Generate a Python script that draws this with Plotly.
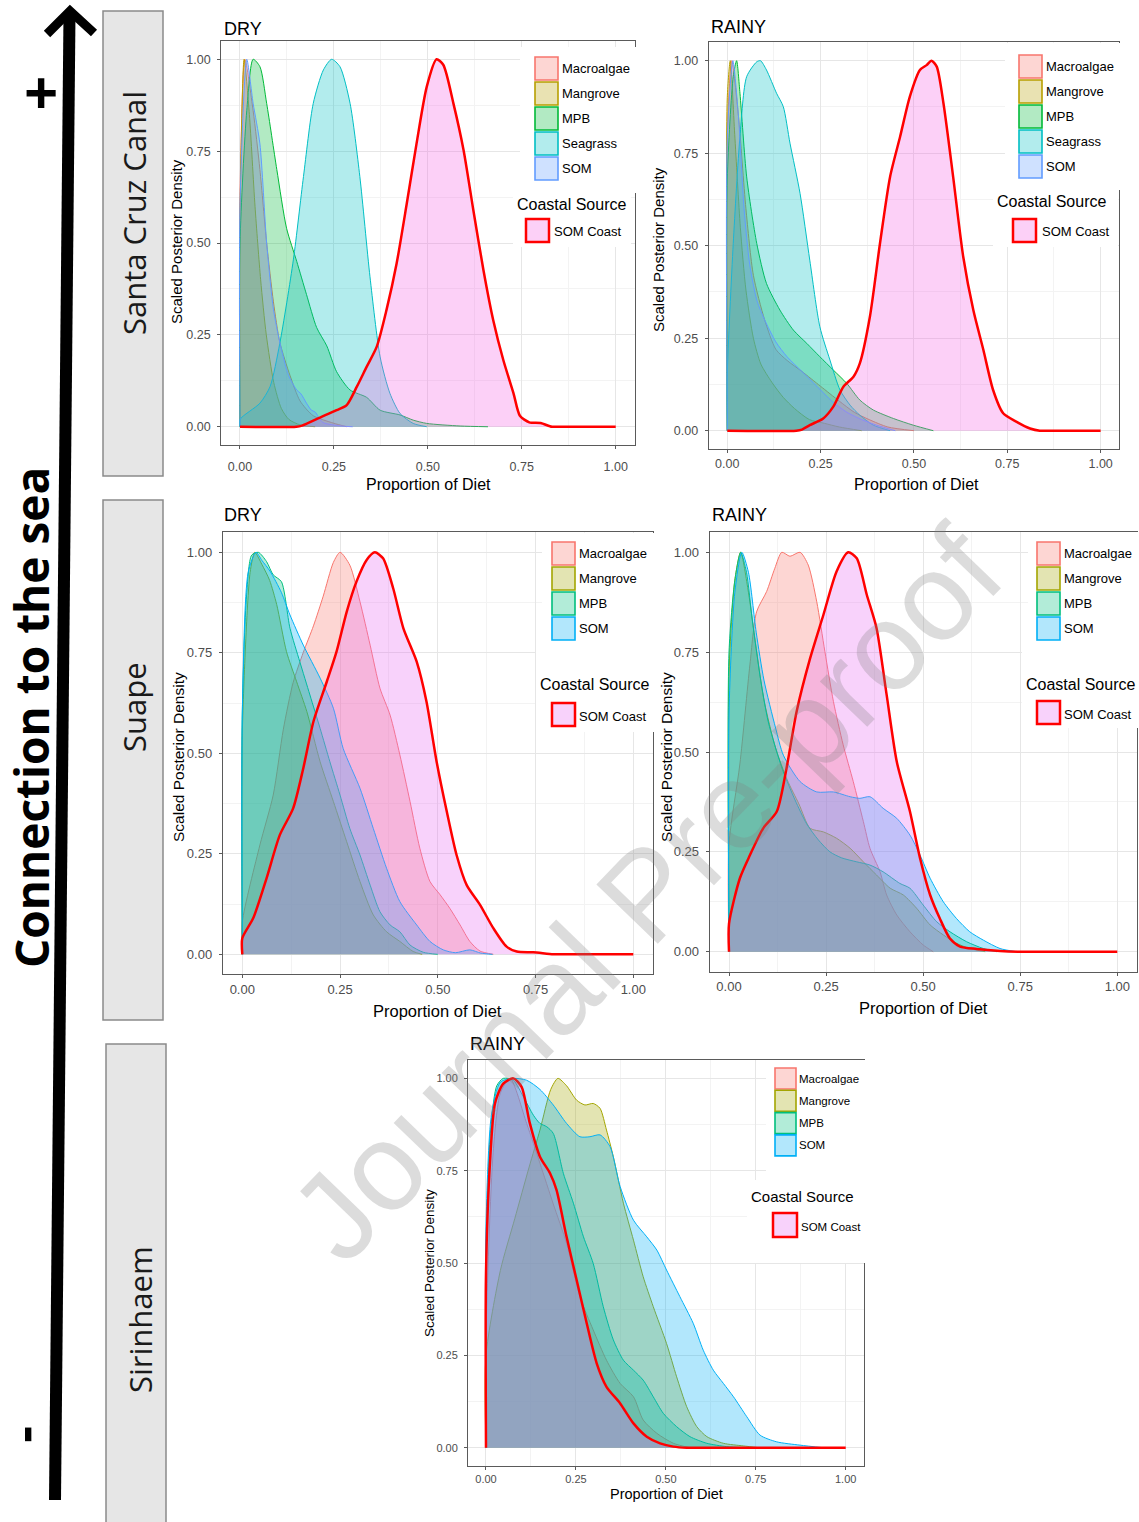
import plotly.graph_objects as go

W, H = 1139, 1522

# ------------------------------------------------------------------ data
SOURCES_SCC = ["Macroalgae", "Mangrove", "MPB", "Seagrass", "SOM"]
SOURCES_EST = ["Macroalgae", "Mangrove", "MPB", "SOM"]
COAST = "SOM Coast"
TICK_VALS = [0, 0.25, 0.5, 0.75, 1.0]
TICK_TEXT = ["0.00", "0.25", "0.50", "0.75", "1.00"]
MINOR_VALS = [0.125, 0.375, 0.625, 0.875]
PANEL_TITLES = ["DRY", "RAINY", "DRY", "RAINY", "RAINY"]
SITES = ["Santa Cruz Canal", "Suape", "Sirinhaem"]

# --- Santa Cruz Canal, DRY
scc_dry_macroalgae_x = [0, 0.013, 0.035, 0.053, 0.071, 0.089, 0.106, 0.133, 0.16, 0.195, 0.248, 0.284]
scc_dry_macroalgae_y = [0.63, 1.0, 0.86, 0.70, 0.50, 0.34, 0.23, 0.14, 0.07, 0.03, 0.01, 0.0]
scc_dry_mangrove_x = [0, 0.011, 0.025, 0.04, 0.055, 0.07, 0.09, 0.11, 0.13, 0.16, 0.2]
scc_dry_mangrove_y = [0.56, 1.0, 0.85, 0.6, 0.4, 0.25, 0.12, 0.05, 0.02, 0.005, 0.0]
scc_dry_mpb_x = [0, 0.018, 0.035, 0.053, 0.071, 0.098, 0.124, 0.151, 0.177, 0.204, 0.231, 0.257,
                 0.293, 0.337, 0.373, 0.426, 0.461, 0.497, 0.586, 0.66]
scc_dry_mpb_y = [0.50, 0.86, 1.0, 0.98, 0.88, 0.70, 0.54, 0.45, 0.36, 0.27, 0.22, 0.15,
                 0.10, 0.08, 0.045, 0.032, 0.018, 0.009, 0.002, 0.0]
scc_dry_seagrass_x = [0, 0.053, 0.08, 0.106, 0.142, 0.169, 0.195, 0.222, 0.244, 0.266, 0.293, 0.319,
                      0.346, 0.373, 0.399, 0.426, 0.461, 0.497]
scc_dry_seagrass_y = [0.02, 0.064, 0.109, 0.227, 0.454, 0.681, 0.88, 0.971, 1.0, 0.98, 0.88, 0.681,
                      0.408, 0.19, 0.091, 0.036, 0.009, 0.0]
scc_dry_som_x = [0, 0.018, 0.035, 0.053, 0.071, 0.089, 0.106, 0.129, 0.151, 0.162, 0.177, 0.19,
                 0.2, 0.22, 0.27, 0.3]
scc_dry_som_y = [0.6, 1.0, 0.88, 0.77, 0.50, 0.32, 0.23, 0.14, 0.10, 0.09, 0.064, 0.045,
                 0.04, 0.012, 0.002, 0.0]
scc_dry_coast_x = [0, 0.15, 0.165, 0.213, 0.257, 0.284, 0.311, 0.337, 0.364, 0.39, 0.417, 0.444,
                   0.47, 0.497, 0.523, 0.541, 0.568, 0.595, 0.621, 0.648, 0.674, 0.701, 0.728,
                   0.745, 0.77, 0.8, 0.83, 0.845, 1.0]
scc_dry_coast_y = [0, 0, 0.003, 0.025, 0.045, 0.059, 0.109, 0.163, 0.218, 0.318, 0.445, 0.608,
                   0.771, 0.925, 1.0, 0.985, 0.88, 0.753, 0.59, 0.426, 0.29, 0.181, 0.091,
                   0.03, 0.012, 0.01, 0.0, 0.0, 0.0]

# --- Santa Cruz Canal, RAINY
scc_rainy_macroalgae_x = [0, 0.012, 0.03, 0.05, 0.07, 0.1, 0.13, 0.16, 0.2, 0.25, 0.3, 0.34, 0.38, 0.43, 0.5]
scc_rainy_macroalgae_y = [0.8, 1.0, 0.85, 0.6, 0.42, 0.3, 0.22, 0.19, 0.16, 0.12, 0.08, 0.05, 0.03, 0.01, 0.0]
scc_rainy_mangrove_x = [0, 0.008, 0.02, 0.035, 0.05, 0.07, 0.09, 0.12, 0.15, 0.18, 0.22, 0.26, 0.3, 0.36]
scc_rainy_mangrove_y = [0.9, 1.0, 0.8, 0.55, 0.38, 0.25, 0.18, 0.13, 0.09, 0.06, 0.03, 0.02, 0.01, 0.0]
scc_rainy_mpb_x = [0, 0.016, 0.025, 0.034, 0.052, 0.079, 0.105, 0.141, 0.177, 0.213, 0.248, 0.284,
                   0.32, 0.355, 0.391, 0.445, 0.498, 0.552]
scc_rainy_mpb_y = [0.68, 0.957, 1.0, 0.912, 0.686, 0.506, 0.398, 0.326, 0.272, 0.236, 0.2, 0.164,
                   0.128, 0.083, 0.056, 0.033, 0.015, 0.0]
scc_rainy_seagrass_x = [0, 0.016, 0.034, 0.052, 0.079, 0.089, 0.105, 0.132, 0.15, 0.168, 0.195, 0.221,
                        0.248, 0.275, 0.302, 0.329, 0.355, 0.391, 0.436]
scc_rainy_seagrass_y = [0.15, 0.506, 0.795, 0.957, 0.997, 1.0, 0.975, 0.912, 0.876, 0.777, 0.641, 0.461,
                        0.281, 0.191, 0.11, 0.069, 0.042, 0.015, 0.0]
scc_rainy_som_x = [0, 0.015, 0.03, 0.045, 0.06, 0.08, 0.1, 0.13, 0.16, 0.2, 0.24, 0.28, 0.32, 0.36, 0.4, 0.45]
scc_rainy_som_y = [0.79, 1.0, 0.85, 0.6, 0.45, 0.35, 0.3, 0.24, 0.2, 0.16, 0.12, 0.08, 0.05, 0.03, 0.015, 0.0]
scc_rainy_coast_x = [0, 0.185, 0.2, 0.221, 0.257, 0.284, 0.311, 0.338, 0.355, 0.382, 0.409, 0.436,
                     0.463, 0.489, 0.516, 0.534, 0.547, 0.561, 0.579, 0.605, 0.632, 0.659, 0.686,
                     0.712, 0.739, 0.775, 0.811, 0.837, 0.852, 1.0]
scc_rainy_coast_y = [0, 0, 0.003, 0.015, 0.033, 0.065, 0.119, 0.146, 0.182, 0.308, 0.506, 0.686,
                     0.795, 0.903, 0.975, 0.988, 1.0, 0.984, 0.885, 0.686, 0.47, 0.326, 0.218,
                     0.11, 0.047, 0.024, 0.006, 0.0, 0.0, 0.0]

# --- Suape, DRY
suape_dry_macroalgae_x = [0, 0.045, 0.079, 0.105, 0.13, 0.156, 0.182, 0.207, 0.233, 0.25, 0.275, 0.301,
                          0.327, 0.352, 0.378, 0.403, 0.429, 0.454, 0.48, 0.506, 0.531, 0.557, 0.582,
                          0.608, 0.642]
suape_dry_macroalgae_y = [0.08, 0.272, 0.396, 0.56, 0.676, 0.751, 0.817, 0.891, 0.975, 1.0, 0.968, 0.877,
                          0.769, 0.662, 0.595, 0.496, 0.38, 0.264, 0.181, 0.148, 0.114, 0.073, 0.032,
                          0.008, 0.0]
suape_dry_mangrove_x = [0, 0.02, 0.032, 0.05, 0.07, 0.088, 0.113, 0.139, 0.165, 0.199, 0.233, 0.267,
                        0.301, 0.335, 0.369, 0.403, 0.437, 0.46]
suape_dry_mangrove_y = [0.55, 0.95, 1.0, 0.97, 0.93, 0.87, 0.753, 0.678, 0.604, 0.479, 0.38, 0.28,
                        0.181, 0.098, 0.056, 0.032, 0.007, 0.0]
suape_dry_mpb_x = [0, 0.011, 0.024, 0.041, 0.062, 0.079, 0.1, 0.122, 0.147, 0.173, 0.199, 0.224,
                   0.25, 0.275, 0.301, 0.327, 0.352, 0.378, 0.403, 0.429, 0.463, 0.5]
suape_dry_mpb_y = [0.6, 0.894, 0.993, 1.0, 0.977, 0.944, 0.927, 0.811, 0.728, 0.645, 0.562, 0.479,
                   0.396, 0.313, 0.247, 0.172, 0.106, 0.073, 0.056, 0.023, 0.005, 0.0]
suape_dry_som_x = [0, 0.015, 0.035, 0.05, 0.071, 0.1, 0.122, 0.156, 0.199, 0.233, 0.258, 0.301,
                   0.335, 0.369, 0.403, 0.446, 0.48, 0.514, 0.545, 0.582, 0.61, 0.64]
suape_dry_som_y = [0.6, 0.95, 1.0, 0.98, 0.953, 0.9, 0.844, 0.769, 0.687, 0.612, 0.512, 0.413,
                   0.313, 0.214, 0.131, 0.073, 0.032, 0.011, 0.004, 0.011, 0.003, 0.0]
suape_dry_coast_x = [0, 0.028, 0.062, 0.096, 0.13, 0.156, 0.182, 0.216, 0.241, 0.267, 0.292, 0.318,
                     0.339, 0.36, 0.386, 0.412, 0.446, 0.471, 0.497, 0.523, 0.548, 0.574, 0.608,
                     0.642, 0.676, 0.702, 0.744, 0.795, 0.81, 1.0]
suape_dry_coast_y = [0.04, 0.09, 0.189, 0.297, 0.363, 0.463, 0.579, 0.678, 0.753, 0.852, 0.927, 0.981,
                     1.0, 0.985, 0.91, 0.811, 0.728, 0.629, 0.479, 0.355, 0.247, 0.172, 0.123,
                     0.065, 0.019, 0.007, 0.005, 0.0, 0.0, 0.0]

# --- Suape, RAINY
suape_rainy_macroalgae_x = [0, 0.028, 0.054, 0.071, 0.097, 0.118, 0.136, 0.157, 0.183, 0.204, 0.226,
                            0.247, 0.269, 0.294, 0.32, 0.346, 0.363, 0.389, 0.406, 0.432, 0.466, 0.5, 0.526]
suape_rainy_macroalgae_y = [0.27, 0.47, 0.72, 0.851, 0.902, 0.96, 1.0, 0.99, 1.0, 0.968, 0.876,
                            0.751, 0.626, 0.518, 0.426, 0.326, 0.259, 0.2, 0.142, 0.092, 0.05, 0.017, 0.0]
suape_rainy_mangrove_x = [0, 0.015, 0.03, 0.05, 0.07, 0.09, 0.12, 0.15, 0.18, 0.209, 0.243, 0.277,
                          0.312, 0.346, 0.38, 0.415, 0.449, 0.483, 0.518, 0.552, 0.586, 0.62, 0.66]
suape_rainy_mangrove_y = [0.7, 0.93, 1.0, 0.9, 0.76, 0.63, 0.51, 0.43, 0.37, 0.309, 0.3, 0.284,
                          0.259, 0.225, 0.192, 0.159, 0.142, 0.109, 0.067, 0.042, 0.021, 0.008, 0.0]
suape_rainy_mpb_x = [0, 0.015, 0.03, 0.045, 0.06, 0.08, 0.1, 0.12, 0.14, 0.17, 0.2, 0.23, 0.26,
                     0.29, 0.329, 0.363, 0.397, 0.44, 0.466, 0.5, 0.535, 0.569, 0.612, 0.655, 0.69]
suape_rainy_mpb_y = [0.75, 0.93, 1.0, 0.95, 0.83, 0.69, 0.58, 0.51, 0.45, 0.38, 0.32, 0.28, 0.25,
                     0.235, 0.225, 0.217, 0.2, 0.171, 0.159, 0.117, 0.075, 0.05, 0.025, 0.008, 0.0]
suape_rainy_som_x = [0, 0.015, 0.033, 0.05, 0.07, 0.09, 0.12, 0.14, 0.183, 0.226, 0.269, 0.312,
                     0.337, 0.363, 0.397, 0.432, 0.466, 0.492, 0.518, 0.552, 0.586, 0.62, 0.655,
                     0.698, 0.741]
suape_rainy_som_y = [0.6, 0.9, 1.0, 0.95, 0.8, 0.68, 0.56, 0.492, 0.426, 0.4, 0.4, 0.388,
                     0.384, 0.388, 0.359, 0.334, 0.292, 0.242, 0.184, 0.125, 0.083, 0.05, 0.029,
                     0.008, 0.0]
suape_rainy_coast_x = [0, 0.028, 0.054, 0.088, 0.123, 0.148, 0.174, 0.209, 0.243, 0.277, 0.307,
                       0.329, 0.355, 0.38, 0.406, 0.432, 0.466, 0.492, 0.518, 0.543, 0.569, 0.595,
                       0.638, 0.698, 0.75, 0.765, 1.0]
suape_rainy_coast_y = [0.07, 0.184, 0.242, 0.309, 0.351, 0.459, 0.601, 0.735, 0.843, 0.952, 1.0,
                       0.985, 0.893, 0.81, 0.643, 0.476, 0.351, 0.234, 0.142, 0.083, 0.033, 0.013,
                       0.007, 0.002, 0.0, 0.0, 0.0]

# --- Sirinhaem, RAINY
sir_rainy_macroalgae_x = [0, 0.02, 0.04, 0.067, 0.113, 0.15, 0.187, 0.224, 0.261, 0.298, 0.335, 0.373,
                          0.41, 0.437, 0.475, 0.521, 0.567]
sir_rainy_macroalgae_y = [0.3, 0.8, 0.96, 1.0, 0.878, 0.77, 0.66, 0.553, 0.409, 0.319, 0.237, 0.174,
                          0.138, 0.075, 0.039, 0.012, 0.0]
sir_rainy_mangrove_x = [0, 0.04, 0.08, 0.12, 0.15, 0.18, 0.2, 0.224, 0.252, 0.275, 0.298, 0.317,
                        0.335, 0.354, 0.382, 0.41, 0.437, 0.465, 0.502, 0.53, 0.558, 0.586, 0.614,
                        0.66, 0.715, 0.76]
sir_rainy_mangrove_y = [0.25, 0.48, 0.62, 0.76, 0.86, 0.97, 1.0, 0.98, 0.941, 0.928, 0.932, 0.919,
                        0.86, 0.788, 0.662, 0.562, 0.463, 0.382, 0.282, 0.192, 0.111, 0.057, 0.03,
                        0.012, 0.005, 0.0]
sir_rainy_mpb_x = [0, 0.012, 0.03, 0.048, 0.076, 0.104, 0.132, 0.15, 0.169, 0.187, 0.215, 0.243,
                   0.271, 0.298, 0.326, 0.354, 0.382, 0.41, 0.437, 0.465, 0.493, 0.53, 0.567,
                   0.614, 0.669, 0.72]
sir_rainy_mpb_y = [0.5, 0.85, 0.98, 1.0, 0.995, 0.95, 0.9, 0.878, 0.869, 0.851, 0.743, 0.662,
                   0.571, 0.499, 0.382, 0.292, 0.237, 0.21, 0.183, 0.138, 0.093, 0.057, 0.03,
                   0.012, 0.003, 0.0]
sir_rainy_som_x = [0, 0.015, 0.04, 0.075, 0.113, 0.15, 0.187, 0.224, 0.261, 0.289, 0.317, 0.345,
                   0.373, 0.41, 0.447, 0.475, 0.502, 0.539, 0.576, 0.604, 0.632, 0.66, 0.688,
                   0.725, 0.762, 0.808, 0.873, 0.938]
sir_rainy_som_y = [0.6, 0.9, 0.99, 1.0, 0.995, 0.97, 0.928, 0.878, 0.842, 0.842, 0.847, 0.815,
                   0.707, 0.616, 0.571, 0.535, 0.481, 0.409, 0.337, 0.264, 0.21, 0.174, 0.138,
                   0.084, 0.034, 0.016, 0.007, 0.0]
sir_rainy_coast_x = [0, 0.011, 0.025, 0.048, 0.076, 0.099, 0.122, 0.15, 0.178, 0.196, 0.224, 0.252,
                     0.28, 0.308, 0.335, 0.373, 0.41, 0.447, 0.484, 0.521, 0.558, 0.575, 1.0]
sir_rainy_coast_y = [0.47, 0.77, 0.932, 0.986, 1.0, 0.977, 0.878, 0.788, 0.743, 0.698, 0.571, 0.454,
                     0.337, 0.228, 0.165, 0.12, 0.066, 0.03, 0.012, 0.003, 0.0, 0.0, 0.0]

# ------------------------------------------------------------------ styles
COL_SCC = {"Macroalgae": "#F8766D", "Mangrove": "#B79F00", "MPB": "#00BA38",
           "Seagrass": "#00BFC4", "SOM": "#619CFF"}
COAST_FILL_SCC = "#F564E3"
COL_EST = {"Macroalgae": "#F8766D", "Mangrove": "#A3A500", "MPB": "#00BF7D", "SOM": "#00B0F6"}
COAST_FILL_EST = "#E76BF3"
COAST_LINE = "#FF0000"
FONT = "Liberation Sans, Arial, Helvetica, sans-serif"
FONT_OS = "Open Sans, Noto Sans, sans-serif"


def rgba(h, a):
    h = h.lstrip("#")
    return "rgba(%d,%d,%d,%.3f)" % (int(h[0:2], 16), int(h[2:4], 16), int(h[4:6], 16), a)


def fx(px):
    return px / W


def fy(py):
    return 1 - py / H


panels = [
    dict(title=PANEL_TITLES[0], names=SOURCES_SCC, colors=COL_SCC, coast_fill=COAST_FILL_SCC,
         series=[(scc_dry_macroalgae_x, scc_dry_macroalgae_y), (scc_dry_mangrove_x, scc_dry_mangrove_y),
                 (scc_dry_mpb_x, scc_dry_mpb_y), (scc_dry_seagrass_x, scc_dry_seagrass_y),
                 (scc_dry_som_x, scc_dry_som_y)],
         coast=(scc_dry_coast_x, scc_dry_coast_y),
         box=(221.2, 40.9, 634.5, 445.1), tick=12.5, xt=16, yt=15, title_xy=(222, 29),
         xtitle_xy=(428, 484), ytitle_xy=(176, 242), xstand=7,
         leg=dict(kx=535, ky=57, ks=23, step=25, tx=560, fs=13, ctx=515, cty=204, cfs=16,
                  ckx=526, cky=219, cks=23, ctxx=552, ctyy=231,
                  bg=[(520, 47, 641, 193), (513, 193, 631, 247)])),
    dict(title=PANEL_TITLES[1], names=SOURCES_SCC, colors=COL_SCC, coast_fill=COAST_FILL_SCC,
         series=[(scc_rainy_macroalgae_x, scc_rainy_macroalgae_y), (scc_rainy_mangrove_x, scc_rainy_mangrove_y),
                 (scc_rainy_mpb_x, scc_rainy_mpb_y), (scc_rainy_seagrass_x, scc_rainy_seagrass_y),
                 (scc_rainy_som_x, scc_rainy_som_y)],
         coast=(scc_rainy_coast_x, scc_rainy_coast_y),
         box=(708.6, 42.2, 1119.3, 449.2), tick=12.5, xt=16, yt=15, title_xy=(709, 27),
         xtitle_xy=(916, 485), ytitle_xy=(659, 250), xstand=0,
         leg=dict(kx=1019, ky=55, ks=23, step=25, tx=1044, fs=13, ctx=995, cty=202, cfs=16,
                  ckx=1013, cky=219, cks=23, ctxx=1040, ctyy=231,
                  bg=[(1005, 43, 1125, 190), (993, 190, 1118, 247)])),
    dict(title=PANEL_TITLES[2], names=SOURCES_EST, colors=COL_EST, coast_fill=COAST_FILL_EST,
         series=[(suape_dry_macroalgae_x, suape_dry_macroalgae_y), (suape_dry_mangrove_x, suape_dry_mangrove_y),
                 (suape_dry_mpb_x, suape_dry_mpb_y), (suape_dry_som_x, suape_dry_som_y)],
         coast=(suape_dry_coast_x, suape_dry_coast_y),
         box=(222.75, 532.2, 652.85, 974.4), tick=13, xt=16.5, yt=15.5, title_xy=(222, 515),
         xtitle_xy=(437, 1011), ytitle_xy=(178, 757), xstand=0,
         leg=dict(kx=552, ky=542, ks=23, step=25, tx=577, fs=13, ctx=538, cty=685, cfs=16,
                  ckx=552, cky=703, cks=23, ctxx=577, ctyy=716,
                  bg=[(542, 533, 662, 652), (536, 652, 662, 732)])),
    dict(title=PANEL_TITLES[3], names=SOURCES_EST, colors=COL_EST, coast_fill=COAST_FILL_EST,
         series=[(suape_rainy_macroalgae_x, suape_rainy_macroalgae_y), (suape_rainy_mangrove_x, suape_rainy_mangrove_y),
                 (suape_rainy_mpb_x, suape_rainy_mpb_y), (suape_rainy_som_x, suape_rainy_som_y)],
         coast=(suape_rainy_coast_x, suape_rainy_coast_y),
         box=(709.6, 532.3, 1136.7, 971.7), tick=13, xt=16.5, yt=15.5, title_xy=(710, 515),
         xtitle_xy=(923, 1008), ytitle_xy=(666, 757), xstand=0,
         leg=dict(kx=1037, ky=542, ks=23, step=25, tx=1062, fs=13, ctx=1024, cty=684, cfs=16,
                  ckx=1037, cky=701, cks=23, ctxx=1062, ctyy=714,
                  bg=[(1028, 532, 1139, 650), (1022, 650, 1139, 728)])),
    dict(title=PANEL_TITLES[4], names=SOURCES_EST, colors=COL_EST, coast_fill=COAST_FILL_EST,
         series=[(sir_rainy_macroalgae_x, sir_rainy_macroalgae_y), (sir_rainy_mangrove_x, sir_rainy_mangrove_y),
                 (sir_rainy_mpb_x, sir_rainy_mpb_y), (sir_rainy_som_x, sir_rainy_som_y)],
         coast=(sir_rainy_coast_x, sir_rainy_coast_y),
         box=(468.0, 1059.9, 863.7, 1466.2), tick=11, xt=14.5, yt=13.5, title_xy=(468, 1044),
         xtitle_xy=(666, 1494), ytitle_xy=(429, 1263), xstand=0,
         leg=dict(kx=775, ky=1068, ks=21, step=22.3, tx=797, fs=11.5, ctx=749, cty=1196, cfs=15,
                  ckx=773, cky=1213, cks=24, ctxx=799, ctyy=1227,
                  bg=[(766, 1060, 868, 1180), (747, 1180, 868, 1263)])),
]

fig = go.Figure()
shapes = []
annotations = []
layout_axes = {}

for i, p in enumerate(panels, start=1):
    xname = "x" if i == 1 else "x%d" % i
    yname = "y" if i == 1 else "y%d" % i
    l, t, r, b = p["box"]

    for name, (xs, ys) in zip(p["names"], p["series"]):
        c = p["colors"][name]
        px_ = ([xs[0]] + list(xs)) if ys[0] > 0 else list(xs)
        py_ = ([0] + list(ys)) if ys[0] > 0 else list(ys)
        fig.add_trace(go.Scatter(
            x=px_, y=py_, mode="lines", name=name, xaxis=xname, yaxis=yname,
            line=dict(color=c, width=1, shape="spline", smoothing=0.7),
            fill="tozeroy", fillcolor=rgba(c, 0.3), hoverinfo="skip", showlegend=False))
    cx, cy = p["coast"]
    cpx = ([cx[0]] + list(cx)) if cy[0] > 0 else list(cx)
    cpy = ([0] + list(cy)) if cy[0] > 0 else list(cy)
    fig.add_trace(go.Scatter(
        x=cpx, y=cpy, mode="lines", name=COAST, xaxis=xname, yaxis=yname,
        line=dict(color=COAST_LINE, width=2.5, shape="spline", smoothing=0.7),
        fill="tozeroy", fillcolor=rgba(p["coast_fill"], 0.3), hoverinfo="skip", showlegend=False))

    axis_common = dict(
        range=[-0.05, 1.05], tickvals=TICK_VALS, ticktext=TICK_TEXT,
        showgrid=True, gridcolor="#e6e6e6", gridwidth=1.1, zeroline=False,
        showline=True, linecolor="#5a5a5a", linewidth=1, mirror=True,
        ticks="outside", ticklen=3, tickcolor="#5a5a5a",
        tickfont=dict(family=FONT, size=p["tick"], color="#4d4d4d"),
        minor=dict(tickvals=MINOR_VALS, showgrid=True, gridcolor="#f3f3f3", gridwidth=1, ticks=""),
        fixedrange=True)
    layout_axes["xaxis" if i == 1 else "xaxis%d" % i] = dict(
        axis_common, domain=[fx(l), fx(r)], anchor=yname, ticklabelstandoff=p["xstand"])
    layout_axes["yaxis" if i == 1 else "yaxis%d" % i] = dict(
        axis_common, domain=[fy(b), fy(t)], anchor=xname, ticklabelstandoff=4)

    # panel title and axis titles
    tx, ty = p["title_xy"]
    annotations.append(dict(text=p["title"], x=fx(tx), y=fy(ty), xref="paper", yref="paper",
                            xanchor="left", yanchor="middle", showarrow=False,
                            font=dict(family=FONT, size=18, color="#000000")))
    ax_, ay_ = p["xtitle_xy"]
    annotations.append(dict(text="Proportion of Diet", x=fx(ax_), y=fy(ay_), xref="paper", yref="paper",
                            xanchor="center", yanchor="middle", showarrow=False,
                            font=dict(family=FONT, size=p["xt"], color="#000000")))
    bx_, by_ = p["ytitle_xy"]
    annotations.append(dict(text="Scaled Posterior Density", x=fx(bx_), y=fy(by_), xref="paper",
                            yref="paper", xanchor="center", yanchor="middle", showarrow=False,
                            textangle=-90, font=dict(family=FONT, size=p["yt"], color="#000000")))

    # legend (drawn as shapes + text)
    lg = p["leg"]
    for (x0, y0, x1, y1) in lg["bg"]:
        shapes.append(dict(type="rect", xref="paper", yref="paper", x0=fx(x0), x1=fx(x1),
                           y0=fy(y1), y1=fy(y0), fillcolor="white", line=dict(width=0),
                           layer="above"))
    for k, name in enumerate(p["names"]):
        c = p["colors"][name]
        ky = lg["ky"] + k * lg["step"]
        shapes.append(dict(type="rect", xref="paper", yref="paper",
                           x0=fx(lg["kx"]), x1=fx(lg["kx"] + lg["ks"]),
                           y0=fy(ky + lg["ks"]), y1=fy(ky),
                           fillcolor=rgba(c, 0.3), line=dict(color=c, width=1.6), layer="above"))
        annotations.append(dict(text=name, x=fx(lg["tx"]), y=fy(ky + lg["ks"] / 2), xref="paper",
                                yref="paper", xanchor="left", yanchor="middle", showarrow=False,
                                font=dict(family=FONT, size=lg["fs"], color="#000000")))
    annotations.append(dict(text="Coastal Source", x=fx(lg["ctx"]), y=fy(lg["cty"]), xref="paper",
                            yref="paper", xanchor="left", yanchor="middle", showarrow=False,
                            font=dict(family=FONT, size=lg["cfs"], color="#000000")))
    shapes.append(dict(type="rect", xref="paper", yref="paper",
                       x0=fx(lg["ckx"]), x1=fx(lg["ckx"] + lg["cks"]),
                       y0=fy(lg["cky"] + lg["cks"]), y1=fy(lg["cky"]),
                       fillcolor=rgba(p["coast_fill"], 0.3), line=dict(color=COAST_LINE, width=2.5),
                       layer="above"))
    annotations.append(dict(text=COAST, x=fx(lg["ctxx"]), y=fy(lg["ctyy"]), xref="paper",
                            yref="paper", xanchor="left", yanchor="middle", showarrow=False,
                            font=dict(family=FONT, size=lg["fs"], color="#000000")))

# ------------------------------------------------------------------ left side decoration
site_boxes = [(103, 11, 163, 476), (103, 500, 163, 1020), (106, 1044, 166, 1530)]
site_label_xy = [(134, 213), (134, 707), (140, 1320)]
for (x0, y0, x1, y1), (lx, ly), site in zip(site_boxes, site_label_xy, SITES):
    shapes.append(dict(type="rect", xref="paper", yref="paper", x0=fx(x0), x1=fx(x1),
                       y0=fy(y1), y1=fy(y0), fillcolor="#e6e6e6",
                       line=dict(color="#8a8a8a", width=1.5), layer="above"))
    annotations.append(dict(text=site, x=fx(lx), y=fy(ly), xref="paper", yref="paper",
                            xanchor="center", yanchor="middle", showarrow=False, textangle=-90,
                            font=dict(family=FONT_OS, size=31, color="#1a1a1a")))

# big arrow
shapes.append(dict(type="line", xref="paper", yref="paper", x0=fx(55), y0=fy(1500),
                   x1=fx(69.5), y1=fy(14), line=dict(color="black", width=12), layer="above"))
shapes.append(dict(type="path", xref="paper", yref="paper",
                   path="M %f %f L %f %f L %f %f" % (fx(47), fy(34), fx(70), fy(11), fx(94), fy(33)),
                   line=dict(color="black", width=9), layer="above"))
annotations.append(dict(text="<b>Connection to the sea</b>", x=fx(31), y=fy(718), xref="paper",
                        yref="paper", xanchor="center", yanchor="middle", showarrow=False,
                        textangle=-90, font=dict(family=FONT_OS, size=46, color="#000000")))
annotations.append(dict(text="<b>+</b>", x=fx(41), y=fy(92), xref="paper", yref="paper",
                        xanchor="center", yanchor="middle", showarrow=False,
                        font=dict(family=FONT_OS, size=60, color="#000000")))
annotations.append(dict(text="<b>-</b>", x=fx(35), y=fy(1434), xref="paper", yref="paper",
                        xanchor="center", yanchor="middle", showarrow=False, textangle=90,
                        font=dict(family=FONT_OS, size=52, color="#000000")))

# watermark
annotations.append(dict(text="Journal Pre-proof", x=fx(646), y=fy(894), xref="paper", yref="paper",
                        xanchor="center", yanchor="middle", showarrow=False, textangle=-46,
                        font=dict(family=FONT, size=124, color="rgba(130,130,130,0.28)")))

fig.update_layout(
    width=W, height=H, autosize=False,
    margin=dict(l=0, r=0, t=0, b=0, pad=0),
    paper_bgcolor="white", plot_bgcolor="white",
    showlegend=False, shapes=shapes, annotations=annotations,
    **layout_axes)

fig.write_html("out.html", config={"displayModeBar": False},
               post_script="document.body.style.margin='0px';document.body.style.padding='0px';")
